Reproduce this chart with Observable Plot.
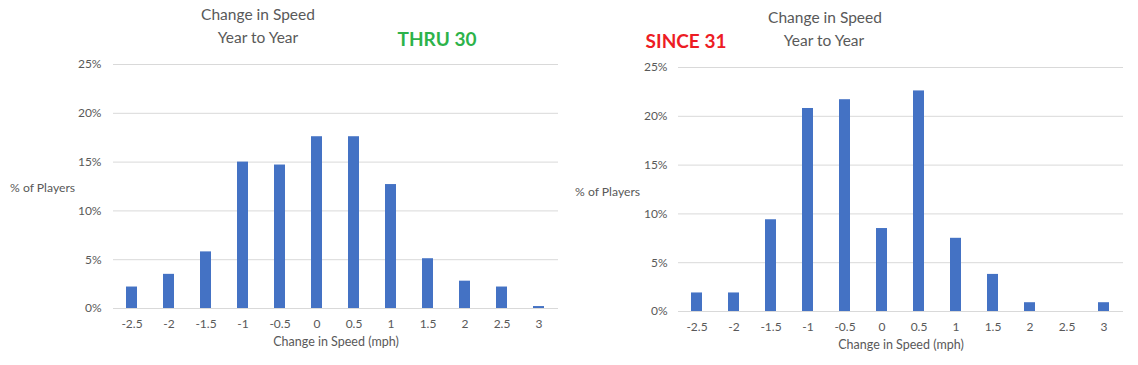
<!DOCTYPE html>
<html>
<head>
<meta charset="utf-8">
<script src="https://cdn.jsdelivr.net/npm/d3@7"></script>
<script src="https://cdn.jsdelivr.net/npm/@observablehq/plot@0.6"></script>
<style>
  html, body { margin: 0; padding: 0; background: #fff; }
  #root { position: relative; width: 1138px; height: 365px; overflow: hidden; font-family: Lato, "Open Sans", sans-serif; }
  .lbl { position: absolute; transform: translate(-50%, -50%); white-space: nowrap; line-height: 1; color: #595959; }
  .lft { position: absolute; transform: translate(0, -50%); white-space: nowrap; line-height: 1; color: #595959; }
  .chart { position: absolute; top: 0; }
</style>
</head>
<body>
<div id="root"></div>
<script>
// ---- data ----
const speedCategories = ["-2.5", "-2", "-1.5", "-1", "-0.5", "0", "0.5", "1", "1.5", "2", "2.5", "3"];
const thru30Pct = [2.2, 3.5, 5.8, 15.0, 14.7, 17.6, 17.6, 12.7, 5.1, 2.8, 2.2, 0.2];
const since31Pct = [1.9, 1.9, 9.4, 20.8, 21.7, 8.5, 22.6, 7.5, 3.8, 0.9, 0, 0.9];
const yTicks = [0, 5, 10, 15, 20, 25];
const chartTitle = ["Change in Speed", "Year to Year"];
const yLabel = "% of Players";
const xLabel = "Change in Speed (mph)";
const tags = ["THRU 30", "SINCE 31"];

const root = document.getElementById("root");

function makeChart(values, opts) {
  const data = speedCategories.map((c, i) => ({speed: c, pct: values[i]}));
  const svg = Plot.plot({
    width: opts.width,
    height: 365,
    marginLeft: opts.ml,
    marginRight: opts.mr,
    marginTop: opts.mt,
    marginBottom: opts.mb,
    style: {fontFamily: "Lato, 'Open Sans', sans-serif", fontSize: "12px", color: "#595959", background: "transparent"},
    x: {type: "band", domain: speedCategories, paddingInner: 0.69, paddingOuter: 0.345, label: null},
    y: {domain: [0, 25], label: null},
    marks: [
      Plot.ruleY(yTicks, {stroke: "#d9d9d9", strokeWidth: 1}),
      Plot.barY(data, {x: "speed", y: "pct", fill: "#4472c4"}),
      Plot.axisX({tickSize: 0, tickPadding: 11, label: null, fill: "#595959"}),
      Plot.axisY({ticks: yTicks, tickSize: 0, tickPadding: opts.tp, tickFormat: d => d + "%", label: null, fill: "#595959"})
    ]
  });
  svg.classList.add("chart");
  svg.style.left = opts.left + "px";
  return svg;
}

root.appendChild(makeChart(thru30Pct, {left: 0, width: 570, ml: 113, mr: 12, mt: 64, mb: 57, tp: 12}));
root.appendChild(makeChart(since31Pct, {left: 570, width: 568, ml: 108, mr: 15, mt: 67, mb: 54, tp: 11}));

function addText(text, x, y, cls, style) {
  const d = document.createElement("div");
  d.className = cls;
  d.textContent = text;
  d.style.left = x + "px";
  d.style.top = y + "px";
  Object.assign(d.style, style || {});
  root.appendChild(d);
}

const titleStyle = {fontSize: "15.5px"};
const tagStyle = {fontSize: "19px", fontWeight: "bold"};
// left chart
addText(chartTitle[0], 258, 15, "lbl", titleStyle);
addText(chartTitle[1], 258, 38, "lbl", titleStyle);
addText(tags[0], 437, 38, "lbl", Object.assign({color: "#2db34a"}, tagStyle));
addText(yLabel, 10, 188, "lft", {fontSize: "12.2px"});
addText(xLabel, 336, 342, "lbl", {fontSize: "12.5px"});
// right chart
addText(chartTitle[0], 825, 18, "lbl", titleStyle);
addText(chartTitle[1], 824, 41, "lbl", titleStyle);
addText(tags[1], 686, 40, "lbl", Object.assign({color: "#ed1c24"}, tagStyle));
addText(yLabel, 575, 192, "lft", {fontSize: "12.2px"});
addText(xLabel, 901, 345, "lbl", {fontSize: "12.5px"});
</script>
</body>
</html>
